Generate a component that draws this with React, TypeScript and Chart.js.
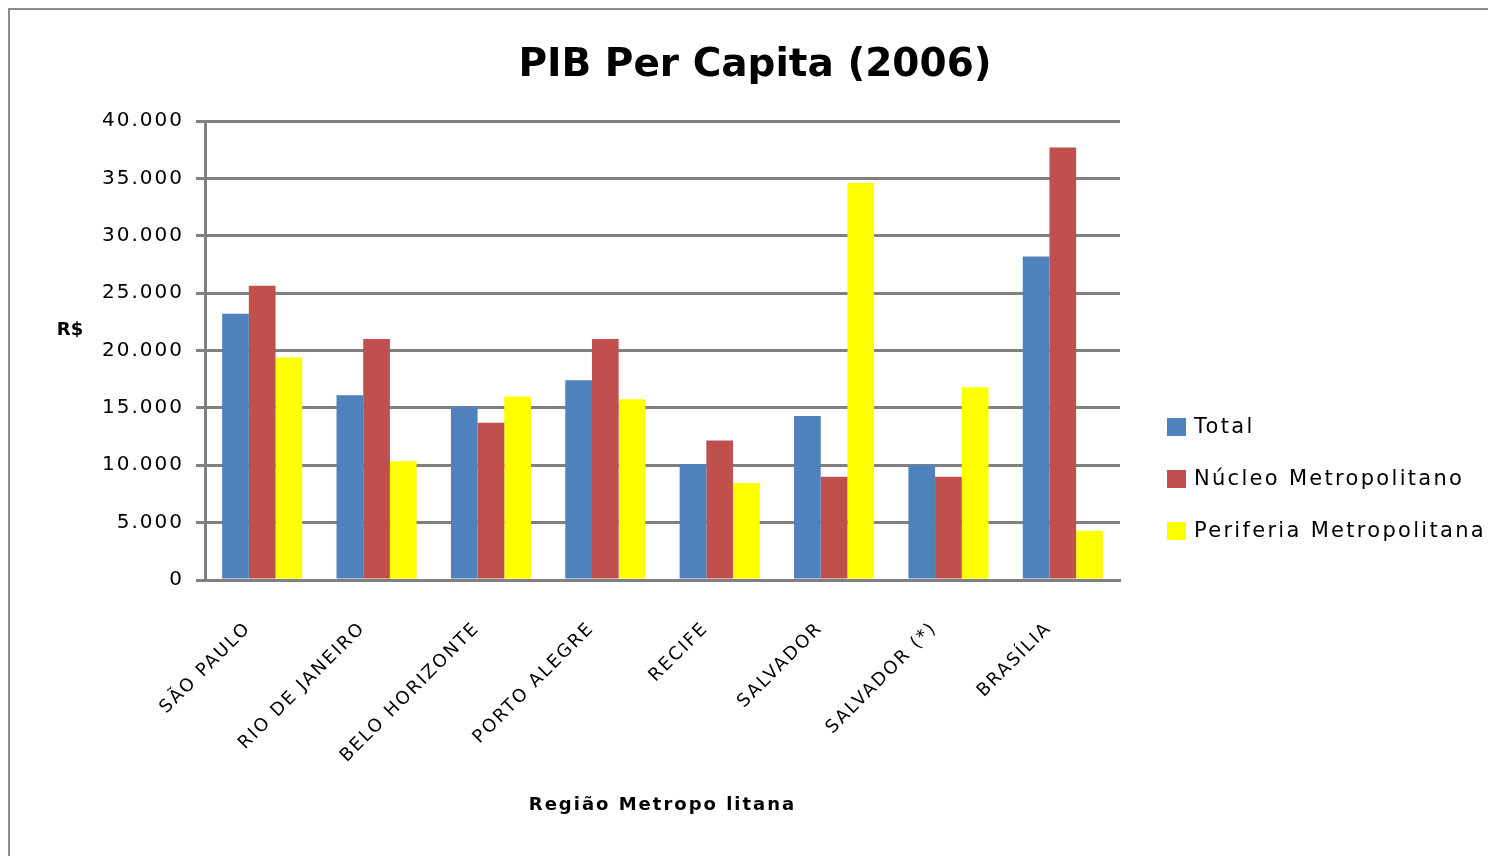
import React, { useEffect, useRef } from "react";
import { Chart, registerables } from "chart.js";

Chart.register(...registerables);

const titleText = "PIB Per Capita (2006)";
const xTitle = "Região Metropo litana";
const yTitle = "R$";
const categories = [
  "SÃO PAULO",
  "RIO DE JANEIRO",
  "BELO HORIZONTE",
  "PORTO ALEGRE",
  "RECIFE",
  "SALVADOR",
  "SALVADOR (*)",
  "BRASÍLIA",
];
const seriesNames = ["Total", "Núcleo Metropolitano", "Periferia Metropolitana"];
const totalValues = [23200, 16100, 15100, 17400, 10100, 14300, 10000, 28200];
const nucleoValues = [25650, 21000, 13700, 21000, 12150, 9000, 9000, 37700];
const periferiaValues = [19400, 10350, 16000, 15750, 8450, 34600, 16800, 4300];
const yTickValues = [0, 5000, 10000, 15000, 20000, 25000, 30000, 35000, 40000];
const seriesColors = ["#4F81BD", "#C0504D", "#FFFF00"];

const FONT = "'DejaVu Sans', sans-serif";

function fmt(v: number): string {
  if (v === 0) return "0";
  const s = String(Math.round(v));
  return s.replace(/\B(?=(\d{3})+(?!\d))/g, ".");
}

const decor = {
  id: "decor",
  beforeLayout(chart: any) {
    (chart.ctx as any).letterSpacing = "2px";
  },
  beforeDraw(chart: any) {
    const ctx = chart.ctx;
    (ctx as any).letterSpacing = "2px";
    ctx.save();
    ctx.fillStyle = "#ffffff";
    ctx.fillRect(0, 0, chart.width, chart.height);
    ctx.strokeStyle = "#8c8c8c";
    ctx.lineWidth = 2;
    ctx.beginPath();
    ctx.moveTo(9, chart.height);
    ctx.lineTo(9, 9);
    ctx.lineTo(chart.width, 9);
    ctx.stroke();
    ctx.restore();
  },
  afterDraw(chart: any) {
    const ctx = chart.ctx;
    ctx.save();
    (ctx as any).letterSpacing = "0px";
    ctx.fillStyle = "#000000";
    ctx.textAlign = "center";
    ctx.textBaseline = "middle";
    ctx.font = `bold 39px ${FONT}`;
    ctx.fillText(titleText, 755, 66);

    ctx.font = `bold 18px ${FONT}`;
    ctx.fillText(yTitle, 70, 330);

    // legend
    (ctx as any).letterSpacing = "2.3px";
    ctx.font = `21px ${FONT}`;
    ctx.textAlign = "left";
    const ys = [427, 479, 531];
    chart.data.datasets.forEach((ds: any, i: number) => {
      ctx.fillStyle = ds.backgroundColor;
      ctx.fillRect(1167, ys[i] - 9, 19, 18);
      ctx.fillStyle = "#000000";
      ctx.fillText(ds.label, 1194, ys[i] + 1);
    });
    ctx.restore();
  },
};

export default function App() {
  const ref = useRef<HTMLCanvasElement | null>(null);

  useEffect(() => {
    const canvas = ref.current;
    if (!canvas) return;
    const seriesValues = [totalValues, nucleoValues, periferiaValues];
    const chart = new Chart(canvas, {
      type: "bar",
      data: {
        labels: categories,
        datasets: seriesNames.map((name, i) => ({
          label: name,
          data: seriesValues[i],
          backgroundColor: seriesColors[i],
          borderWidth: 0,
          categoryPercentage: 0.7,
          barPercentage: 1.0,
        })),
      },
      options: {
        responsive: false,
        animation: false,
        devicePixelRatio: 1,
        layout: { padding: { left: 0, top: 121, right: 368, bottom: 0 } },
        plugins: {
          legend: { display: false },
          title: { display: false },
          tooltip: { enabled: false },
        },
        scales: {
          x: {
            grid: { display: false, drawTicks: false },
            border: { display: true, color: "#808080", width: 3 },
            ticks: {
              minRotation: 45,
              maxRotation: 45,
              autoSkip: false,
              padding: 38,
              labelOffset: -14,
              color: "#000000",
              font: { family: FONT, size: 18 },
            },
            title: {
              display: true,
              text: xTitle,
              color: "#000000",
              font: { family: FONT, size: 18, weight: "bold" },
              padding: { top: 0, bottom: 40 },
            },
            afterFit(scale: any) {
              scale.height = 856 - 580;
            },
          },
          y: {
            min: 0,
            max: 40000,
            afterBuildTicks(scale: any) {
              scale.ticks = yTickValues.map((v) => ({ value: v }));
            },
            grid: {
              color: "#808080",
              lineWidth: 3,
              drawTicks: true,
              tickLength: 9,
            },
            border: { display: true, color: "#808080", width: 3 },
            ticks: {
              padding: 12,
              color: "#000000",
              font: { family: FONT, size: 20 },
              callback: (v: any) => fmt(Number(v)),
            },
            afterFit(scale: any) {
              scale.width = 205;
            },
          },
        },
      },
      plugins: [decor],
    });
    return () => chart.destroy();
  }, []);

  return (
    <div style={{ position: "fixed", left: 0, top: 0, width: 1488, height: 856, background: "#fff" }}>
      <canvas ref={ref} width={1488} height={856} style={{ width: 1488, height: 856, display: "block" }} />
    </div>
  );
}
